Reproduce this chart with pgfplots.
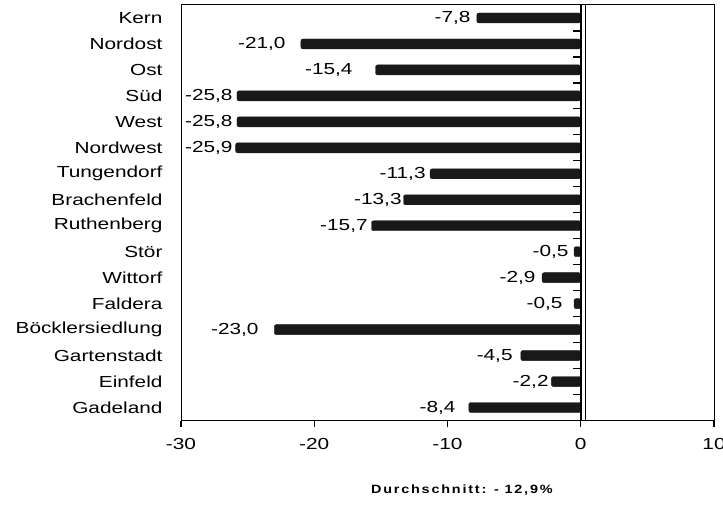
\documentclass[border=0pt]{standalone}
\usepackage{fontspec}
\setmainfont{Liberation Sans}[FakeStretch=1.3]
\newfontfamily\durchfont{Liberation Sans}[FakeStretch=1.2,LetterSpace=15]
\usepackage{pgfplots}
\usepackage{pgfplotstable}
\pgfplotsset{compat=1.18}
% x = value, lx = horizontal position of the right end of the value label
\pgfplotstableread{
x y lx label
-7.8 0 -8.26 -7,8
-21.0 1 -22.14 -21,0
-15.4 2 -17.11 -15,4
-25.8 3 -26.12 -25,8
-25.8 4 -26.12 -25,8
-25.9 5 -26.12 -25,9
-11.3 6 -11.63 -11,3
-13.3 7 -13.43 -13,3
-15.7 8 -15.98 -15,7
-0.5 9 -0.90 -0,5
-2.9 10 -3.38 -2,9
-0.5 11 -1.35 -0,5
-23.0 12 -24.17 -23,0
-4.5 13 -5.10 -4,5
-2.2 14 -2.40 -2,2
-8.4 15 -9.38 -8,4
}\datatable
\begin{document}
\begin{tikzpicture}
\begin{axis}[
  at={(181bp,85.5bp)}, anchor=south west,
  scale only axis, width=533bp, height=415.5bp,
  xmin=-30, xmax=10, ymin=-0.5, ymax=15.5,
  y dir=reverse,
  axis line style={black, line width=1bp},
  xtick={-30,-20,-10,0,10},
  xticklabels={-30,-20,-10,0,10},
  xtick pos=bottom, ytick pos=left,
  tick align=outside,
  major tick length=6bp,
  tick style={black, line width=1.2bp},
  xticklabel style={font=\fontsize{16bp}{19bp}\selectfont, yshift=-8bp},
  ytick={0,...,15},
  yticklabels={Kern,Nordost,Ost,Süd,West,Nordwest,Tungendorf,Brachenfeld,Ruthenberg,Stör,Wittorf,Faldera,Böcklersiedlung,Gartenstadt,Einfeld,Gadeland},
  ytick style={draw=none},
  yticklabel style={font=\fontsize{16bp}{19bp}\selectfont, xshift=-9bp},
  extra y ticks={-0.5,0.5,...,15.5},
  extra y tick labels={},
  extra y tick style={tick style={draw=black, line width=1.2bp}, major tick length=6bp},
  clip=false,
]
\addplot[xbar, bar width=10bp, fill=black!90, draw=black!90, rounded corners=2bp] table[x=x, y=y] {\datatable};
\addplot[only marks, mark=none, point meta=explicit symbolic,
  nodes near coords,
  every node near coord/.append style={font=\fontsize{16bp}{19bp}\selectfont, anchor=east, black, inner sep=0bp}]
  table[x=lx, y=y, meta=label] {\datatable};
\draw[black, line width=2bp] (axis cs:0,-0.5) -- (axis cs:0,15.5);
\draw[black, line width=0.8bp] (axis cs:0.33,-0.5) -- (axis cs:0.33,15.5);
\pgfplotsinvokeforeach{0.5,1.5,2.5,3.5,4.5,5.5,6.5,7.5,8.5,9.5,10.5,11.5,12.5,13.5,14.5}{
  \draw[black, line width=1.2bp] (axis cs:0,#1) -- ([xshift=-8bp]axis cs:0,#1);
}
\node[font=\durchfont\bfseries\fontsize{12bp}{14bp}\selectfont, anchor=center] at (rel axis cs:0.527,-0.168) {Durchschnitt: - 12,9\%};
\end{axis}
\pgfresetboundingbox
\useasboundingbox (0,0) rectangle (723bp,506bp);
\end{tikzpicture}
\end{document}
